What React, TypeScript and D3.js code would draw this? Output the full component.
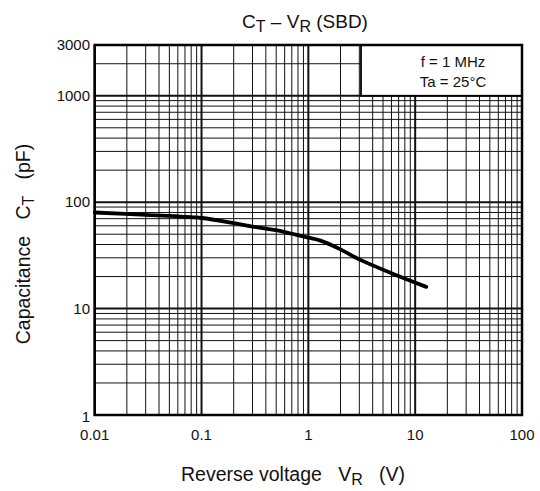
import React from "react";
import * as d3 from "d3";

const vrValues = [0.01, 0.03, 0.1, 0.2, 0.3, 0.5, 0.7, 1, 1.3, 2, 3, 6, 12.7];
const ctValues = [80, 76, 71, 63.5, 59, 54.5, 50.5, 46.5, 43.5, 36, 29, 21.5, 16];
const xTickLabels = [0.01, 0.1, 1, 10, 100];
const yTickLabels = [1, 10, 100, 1000, 3000];
const legendLines = ["f = 1 MHz", "Ta = 25°C"];

const W = 540;
const H = 491;
const M = { left: 94.7, right: 522, top: 45, bottom: 415 };
const FONT = "'Liberation Sans', Arial, Helvetica, sans-serif";

function minorTicks(lo: number, hi: number): number[] {
  const out: number[] = [];
  for (let d = lo; d < hi; d *= 10) {
    for (let k = 1; k <= 9; k++) {
      const v = d * k;
      if (v <= hi * 1.0001) out.push(v);
    }
  }
  return out;
}

export default function App() {
  const x = d3.scaleLog().domain([0.01, 100]).range([M.left, M.right]);
  const y = d3.scaleLog().domain([1, 3000]).range([M.bottom, M.top]);

  const xGrid = minorTicks(0.01, 100).concat([100]);
  const yGrid = minorTicks(1, 1000).concat([1000, 2000, 3000]);
  const isDecade = (v: number) => Math.abs(Math.log10(v) - Math.round(Math.log10(v))) < 1e-9;

  const pts = vrValues.map((v, i) => [x(v), y(ctValues[i])] as [number, number]);
  const line = d3.line().curve(d3.curveCatmullRom.alpha(0.5))(pts) || "";

  const lx0 = 361, ly0 = M.top, lx1 = M.right, ly1 = y(1000);

  return (
    <svg width={W} height={H} style={{ position: "absolute", left: 0, top: 0, background: "#fff" }} fontFamily={FONT}>
      <rect x={0} y={0} width={W} height={H} fill="#fff" />
      {/* grid */}
      {xGrid.map((v, i) => (
        <line key={"gx" + i} x1={x(v)} x2={x(v)} y1={M.top} y2={M.bottom}
          stroke="#111" strokeWidth={isDecade(v) ? 2 : 1} />
      ))}
      {yGrid.map((v, i) => (
        <line key={"gy" + i} x1={M.left} x2={M.right} y1={y(v)} y2={y(v)}
          stroke="#111" strokeWidth={isDecade(v) ? 2 : 1} />
      ))}
      {/* legend box */}
      <rect x={lx0} y={ly0} width={lx1 - lx0} height={ly1 - ly0} fill="#fff" stroke="#000" strokeWidth={1.8} />
      {legendLines.map((t, i) => (
        <text key={"lg" + i} x={453} y={66.5 + i * 20.5} textAnchor="middle" fontSize={15} fill="#111">{t}</text>
      ))}
      {/* curve */}
      <path d={line} fill="none" stroke="#000" strokeWidth={3.8} strokeLinecap="round" />
      {/* border */}
      <rect x={M.left} y={M.top} width={M.right - M.left} height={M.bottom - M.top} fill="none" stroke="#000" strokeWidth={2.5} />
      {/* y tick labels */}
      {yTickLabels.map((v) => (
        <text key={"yt" + v} x={90} y={y(v) + 5 + (v === 1 ? 2 : 0)} textAnchor="end" fontSize={15} fill="#111">{v}</text>
      ))}
      {/* x tick labels */}
      {xTickLabels.map((v) => (
        <text key={"xt" + v} x={x(v)} y={440} textAnchor="middle" fontSize={15} fill="#111">{v}</text>
      ))}
      {/* title */}
      <text x={305} y={28} textAnchor="middle" fontSize={19} fill="#111" style={{ whiteSpace: "pre" }}>
        <tspan>C</tspan><tspan dy={4} fontSize={16}>T</tspan><tspan dy={-4}>{" – V"}</tspan><tspan dy={4} fontSize={16}>R</tspan><tspan dy={-4}>{" (SBD)"}</tspan>
      </text>
      {/* x axis label */}
      <text x={293} y={481} textAnchor="middle" fontSize={19.5} fill="#111" style={{ whiteSpace: "pre" }}>
        <tspan>{"Reverse voltage   V"}</tspan><tspan dy={4} fontSize={16}>R</tspan><tspan dy={-4}>{"   (V)"}</tspan>
      </text>
      {/* y axis label */}
      <text transform="translate(30,244) rotate(-90)" textAnchor="middle" fontSize={19.5} fill="#111" style={{ whiteSpace: "pre" }}>
        <tspan>{"Capacitance   C"}</tspan><tspan dy={4} fontSize={16}>T</tspan><tspan dy={-4}>{"   (pF)"}</tspan>
      </text>
    </svg>
  );
}
